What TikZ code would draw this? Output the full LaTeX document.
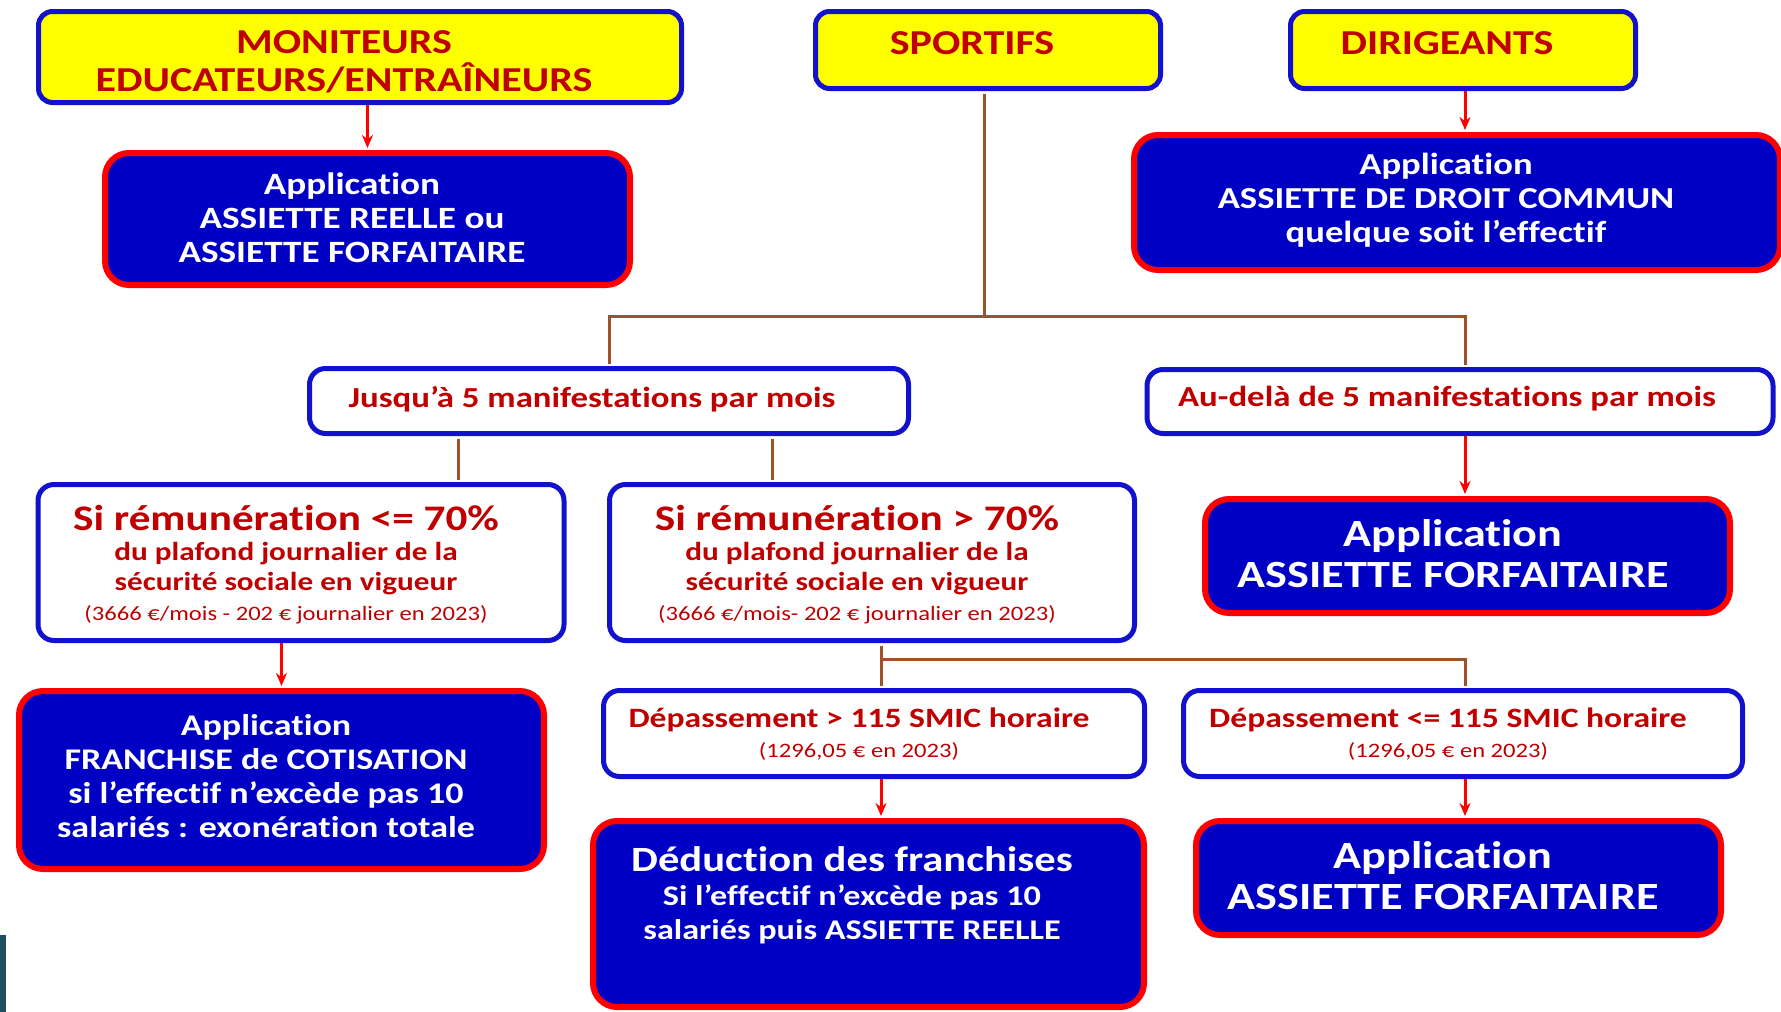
\documentclass[tikz,border=0pt]{standalone}
\usepackage{fontspec}
\setmainfont{Carlito}[FakeStretch=1.2, Ligatures=CommonOff]
\usetikzlibrary{arrows.meta, positioning}
\definecolor{jaune}{HTML}{FFFF00}
\definecolor{bleu}{HTML}{0000C4}
\definecolor{bleutrait}{HTML}{1212CC}
\definecolor{rouge}{HTML}{FF0000}
\definecolor{rougetexte}{HTML}{C00000}
\definecolor{marron}{HTML}{9C5424}
\definecolor{ardoise}{HTML}{1F4F5F}
\newcommand{\fsz}[2]{\fontsize{#1}{#2}\selectfont}

\begin{document}
\begin{tikzpicture}[x=1pt, y=-1pt,
      groupe/.style={draw=bleutrait, fill=jaune, line width=5pt, rounded corners=14pt, inner sep=0pt},
      titre/.style={text=rougetexte, font=\bfseries\fsz{35}{38}, align=center, inner sep=0pt},
      cond/.style={draw=bleutrait, fill=white, line width=5pt, rounded corners=16pt, inner sep=0pt},
      condtxt/.style={text=rougetexte, align=center, inner sep=0pt},
      appli/.style={draw=rouge, fill=bleu, line width=6pt, rounded corners=24pt, inner sep=0pt},
      applitxt/.style={text=white, align=center, inner sep=0pt},
      lien/.style={draw=marron, line width=3pt},
      fleche/.style={draw=rouge, line width=3pt, -{Stealth[length=13pt, width=11pt]}, shorten >=2pt},
      >=Stealth
    ]
    \path[use as bounding box, clip] (0,0) rectangle (1781,1012);
    \fill[ardoise] (-20,935) rectangle (6,1012);

    % les trois publics
    \node[groupe, minimum width=643pt, minimum height=91pt] (moniteurs) at (360,57) {};
    \node[titre] (moniteurstxt) at (344,62) {MONITEURS\\EDUCATEURS/ENTRAÎNEURS};
    \node[groupe, minimum width=345pt, minimum height=77pt] (sportifs) at (988,50) {};
    \node[titre] (sportifstxt) at (972,43) {SPORTIFS};
    \node[groupe, minimum width=345pt, minimum height=77pt] (dirigeants) at (1463,50) {};
    \node[titre] (dirigeantstxt) at (1447,43) {DIRIGEANTS};

    \node[appli, minimum width=525pt, minimum height=132pt] (appreelle) at (367.5,219) {};
    \node[applitxt, font=\bfseries\fsz{31}{34}] (appreelletxt) at (352,218) {Application\\ASSIETTE REELLE ou\\ASSIETTE FORFAITAIRE};
    \node[appli, minimum width=646pt, minimum height=135pt] (appdroit) at (1457,202.5) {};
    \node[applitxt, font=\bfseries\fsz{30.5}{34}] (appdroittxt) at (1446,200) {Application\\ASSIETTE DE DROIT COMMUN\\quelque soit l’effectif};

    % nombre de manifestations
    \node[cond, minimum width=599pt, minimum height=65pt] (jusqua) at (609,401) {};
    \node[condtxt, font=\bfseries\fsz{29}{32}] (jusquatxt) at (592,399) {Jusqu’à 5 manifestations par mois};
    \node[cond, minimum width=626pt, minimum height=64pt] (audela) at (1460,401.5) {};
    \node[condtxt, font=\bfseries\fsz{29}{32}] (audelatxt) at (1447,399) {Au-delà de 5 manifestations par mois};

    % niveau de remuneration
    \node[cond, minimum width=526pt, minimum height=156pt] (sile) at (301,562.5) {};
    \node[condtxt, font=\bfseries\fsz{26}{30}] (siletxt) at (286,565)
      {{\fsz{36}{37}Si rémunération <= 70\%}\\du plafond journalier de la\\sécurité sociale en vigueur\\{\mdseries\fsz{20.5}{26}(3666 €/mois - 202 € journalier en 2023)}};
    \node[cond, minimum width=525pt, minimum height=156pt] (sigt) at (872,562.5) {};
    \node[condtxt, font=\bfseries\fsz{26}{30}] (sigttxt) at (857,565)
      {{\fsz{36}{37}Si rémunération > 70\%}\\du plafond journalier de la\\sécurité sociale en vigueur\\{\mdseries\fsz{20.5}{26}(3666 €/mois- 202 € journalier en 2023)}};
    \node[appli, minimum width=525pt, minimum height=114pt] (appforf) at (1467.5,556) {};
    \node[applitxt, font=\bfseries\fsz{38.5}{41}] (appforftxt) at (1453,554) {Application\\ASSIETTE FORFAITAIRE};

    \node[appli, minimum width=525pt, minimum height=178pt] (franchise) at (281.5,780) {};
    \node[applitxt, font=\bfseries\fsz{30}{34}] (franchisetxt) at (266,776)
      {Application\\FRANCHISE de COTISATION\\si l’effectif n’excède pas 10\\salariés : exonération totale};

    % depassement
    \node[cond, minimum width=541pt, minimum height=86pt] (depgt) at (874,733.5) {};
    \node[condtxt, font=\bfseries\fsz{28}{30}] (depgttxt) at (859,734)
      {Dépassement > 115 SMIC horaire\\{\mdseries\fsz{20.5}{24}(1296,05 € en 2023)}};
    \node[cond, minimum width=559pt, minimum height=86pt] (deple) at (1463,733.5) {};
    \node[condtxt, font=\bfseries\fsz{28}{30}] (depletxt) at (1448,734)
      {Dépassement <= 115 SMIC horaire\\{\mdseries\fsz{20.5}{24}(1296,05 € en 2023)}};

    \node[appli, minimum width=551pt, minimum height=186pt] (deduction) at (868.5,914) {};
    \node[applitxt, font=\bfseries\fsz{28.5}{34}] (deductiontxt) at (852,895)
      {{\fsz{35.5}{40}Déduction des franchises}\\Si l’effectif n’excède pas 10\\salariés puis ASSIETTE REELLE};
    \node[appli, minimum width=525pt, minimum height=114pt] (appforfb) at (1458.5,878) {};
    \node[applitxt, font=\bfseries\fsz{38.5}{41}] (appforfbtxt) at (1443,876) {Application\\ASSIETTE FORFAITAIRE};

    % liaisons
    \coordinate (brA) at (458,0);
    \coordinate (brB) at (772,0);
    \coordinate (brC) at (881,0);
    \coordinate (brD) at (1465,0);
    \coordinate (brS) at (984,0);
    \coordinate (fourche) at (984,316);
    \coordinate (fourcheb) at (881,659);

    \draw[lien, shorten <=2.5pt] (sportifs.south -| brS) -- (fourche);
    \draw[lien, shorten <=2.5pt, shorten >=2.5pt] (jusqua.north) |- (fourche) -| (audela.north -| brD);
    \draw[lien, shorten <=2.5pt, shorten >=2.5pt] (jusqua.south -| brA) -- (sile.north -| brA);
    \draw[lien, shorten <=2.5pt, shorten >=2.5pt] (jusqua.south -| brB) -- (sigt.north -| brB);
    \draw[lien, shorten <=2.5pt, shorten >=2.5pt] (sigt.south -| brC) -- (depgt.north -| brC);
    \draw[lien, shorten >=2.5pt] (fourcheb) -| (deple.north -| brD);

    \draw[fleche] (moniteurs.south -| appreelle.north) -- (appreelle.north);
    \draw[fleche] (dirigeants.south -| brD) -- (appdroit.north -| brD);
    \draw[fleche] (audela.south -| brD) -- (appforf.north -| brD);
    \draw[fleche] (sile.south -| franchise.north) -- (franchise.north);
    \draw[fleche] (depgt.south -| brC) -- (deduction.north -| brC);
    \draw[fleche] (deple.south -| brD) -- (appforfb.north -| brD);
  \end{tikzpicture}
\end{document}
